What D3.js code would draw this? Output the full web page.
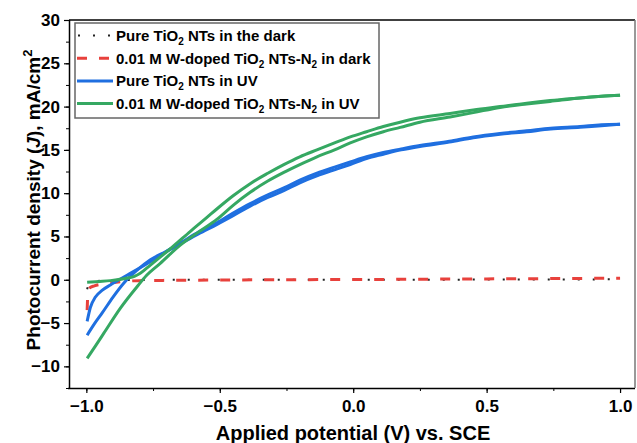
<!DOCTYPE html>
<html>
<head>
<meta charset="utf-8">
<script src="https://cdn.jsdelivr.net/npm/d3@7"></script>
<style>
	body { margin: 0; background: #fff; }
	text { font-family: "Liberation Sans", Arial, sans-serif; font-weight: bold; fill: #000; }
</style>
</head>
<body>
<div id="chart"></div>
<script>
// tick labels
var xTicks = [-1.0, -0.5, 0.0, 0.5, 1.0];
var yTicks = [-10, -5, 0, 5, 10, 15, 20, 25, 30];

// legend entries (odd parts are subscripts)
var seriesNames = [
	['Pure TiO', '2', ' NTs in the dark'],
	['0.01 M W-doped TiO', '2', ' NTs-N', '2', ' in dark'],
	['Pure TiO', '2', ' NTs in UV'],
	['0.01 M W-doped TiO', '2', ' NTs-N', '2', ' in UV']
];

// [potential V, current mA/cm2]
var pureDark = [[-0.997,-1.1],[-0.99,-0.5],[-0.97,-0.2],[-0.9,-0.05],[-0.5,0],[0,0],[0.5,0.02],[1.0,0.05]];
var wDark = [[-0.997,-3.5],[-0.995,-2.0],[-0.99,-1.0],[-0.97,-0.7],[-0.93,-0.45],[-0.88,-0.25],[-0.8,-0.1],
	[-0.6,-0.05],[-0.3,0],[0,0.03],[0.5,0.1],[1.0,0.18]];

var pureUvA = [[-0.997,-4.8],[-0.985,-3.2],[-0.966,-2.0],[-0.94,-1.2],[-0.91,-0.6],[-0.846,0.55],[-0.77,1.9],
	[-0.72,2.9],[-0.65,4.1],[-0.58,5.3],[-0.51,6.4],[-0.45,7.4],[-0.386,8.5],[-0.32,9.5],[-0.26,10.3],
	[-0.2,11.2],[-0.136,12.0],[-0.07,12.7],[-0.011,13.3],[0.05,14.0],[0.113,14.5],[0.18,15.0],[0.25,15.4],
	[0.36,15.9],[0.45,16.4],[0.55,16.8],[0.65,17.1],[0.74,17.4],[0.85,17.6],[0.93,17.8],[1.0,17.95]];
var pureUvB = [[-0.997,-6.4],[-0.97,-5.1],[-0.94,-3.8],[-0.9,-2.0],[-0.86,-0.4],[-0.81,1.1],[-0.76,2.3],
	[-0.7,3.3],[-0.64,4.4],[-0.58,5.5],[-0.51,6.6],[-0.45,7.7],[-0.386,8.8],[-0.32,9.8],[-0.26,10.6],
	[-0.2,11.5],[-0.136,12.3],[-0.07,13.0],[-0.011,13.6],[0.05,14.2],[0.113,14.7],[0.18,15.1],[0.25,15.5],
	[0.36,16.0],[0.45,16.5],[0.55,16.9],[0.65,17.2],[0.74,17.5],[0.85,17.7],[0.93,17.9],[1.0,17.95]];

var wUvA = [[-0.997,-0.3],[-0.95,-0.2],[-0.91,-0.1],[-0.846,0.2],[-0.82,0.4],[-0.798,0.75],[-0.76,1.7],
	[-0.72,2.7],[-0.673,3.9],[-0.61,5.6],[-0.548,7.2],[-0.51,8.2],[-0.45,9.7],[-0.386,11.1],[-0.32,12.3],
	[-0.26,13.3],[-0.2,14.2],[-0.136,15.0],[-0.07,15.8],[-0.011,16.5],[0.05,17.1],[0.113,17.7],[0.176,18.2],
	[0.25,18.7],[0.363,19.2],[0.45,19.6],[0.55,20.0],[0.65,20.4],[0.738,20.7],[0.85,21.0],[0.93,21.2],[1.0,21.3]];
var wUvB = [[-0.997,-9.07],[-0.965,-7.6],[-0.935,-6.2],[-0.873,-3.3],[-0.81,-0.8],[-0.773,0.55],[-0.723,1.9],
	[-0.648,4.0],[-0.58,5.5],[-0.51,7.0],[-0.45,8.6],[-0.386,10.1],[-0.32,11.4],[-0.26,12.4],[-0.2,13.3],
	[-0.136,14.2],[-0.07,15.0],[-0.011,15.8],[0.05,16.5],[0.113,17.1],[0.176,17.6],[0.25,18.2],[0.363,18.8],
	[0.45,19.3],[0.55,19.9],[0.65,20.3],[0.738,20.6],[0.85,21.0],[0.93,21.2],[1.0,21.3]];

window.onload = function(){

	var svg = d3.select('#chart').append('svg').attr('width', 637).attr('height', 443);

	var x = d3.scaleLinear().domain([-1.065, 1.056]).range([69, 635]);
	var y = d3.scaleLinear().domain([-12.5, 30]).range([388, 20]);

	var styles = [
		{color: '#222', width: 2, dash: '2,13'},
		{color: '#e8413c', width: 3, dash: '10,12'},
		{color: '#1f6fe0', width: 3, dash: null},
		{color: '#35a862', width: 3, dash: null}
	];

	svg.append('clipPath').attr('id', 'plotClip').append('rect')
		.attr('x', 69).attr('y', 20).attr('width', 566).attr('height', 368);

	var line = d3.line()
		.x(function(d){ return x(d[0]); })
		.y(function(d){ return y(d[1]); })
		.curve(d3.curveMonotoneX);

	var curves = [
		{data: pureDark, s: 0},
		{data: wDark, s: 1},
		{data: pureUvA, s: 2},
		{data: pureUvB, s: 2},
		{data: wUvA, s: 3},
		{data: wUvB, s: 3}
	];

	var plot = svg.append('g').attr('clip-path', 'url(#plotClip)');
	plot.selectAll('path').data(curves).enter().append('path')
		.attr('d', function(d){ return line(d.data); })
		.attr('fill', 'none')
		.attr('stroke', function(d){ return styles[d.s].color; })
		.attr('stroke-width', function(d){ return styles[d.s].width; })
		.attr('stroke-dasharray', function(d){ return styles[d.s].dash; })
		.attr('stroke-linejoin', 'round');

	// minor ticks
	var xMinor = d3.range(-1.0, 1.01, 0.25);
	var yMinor = d3.range(-12.5, 30.1, 2.5);
	svg.append('g').attr('transform', 'translate(0,388)')
		.call(d3.axisBottom(x).tickValues(xMinor).tickSize(3).tickFormat(''))
		.call(function(g){ g.select('.domain').remove(); });
	svg.append('g').attr('transform', 'translate(69,0)')
		.call(d3.axisLeft(y).tickValues(yMinor).tickSize(3).tickFormat(''))
		.call(function(g){ g.select('.domain').remove(); });

	// major axes
	var xAxis = svg.append('g').attr('transform', 'translate(0,388)')
		.call(d3.axisBottom(x).tickValues(xTicks).tickSize(5).tickPadding(7).tickFormat(d3.format('.1f')).tickSizeOuter(0));
	var yAxis = svg.append('g').attr('transform', 'translate(69,0)')
		.call(d3.axisLeft(y).tickValues(yTicks).tickSize(5).tickPadding(4).tickSizeOuter(0));

	[xAxis, yAxis].forEach(function(g){
		g.selectAll('text').style('font-size', '17px').attr('font-family', null).attr('fill', '#000');
		g.selectAll('.domain').attr('stroke-width', 1.5);
		g.selectAll('line').attr('stroke-width', 1.2);
	});
	svg.selectAll('.tick line').attr('stroke', '#000');
	xAxis.select('.domain').attr('d', 'M68,0.5H635');
	yAxis.select('.domain').attr('d', 'M0.5,20V389');

	// top and right frame
	svg.append('line').attr('x1', 69).attr('x2', 635).attr('y1', 20).attr('y2', 20)
		.attr('stroke', '#000').attr('stroke-width', 1.5);
	svg.append('line').attr('x1', 635).attr('x2', 635).attr('y1', 20).attr('y2', 388)
		.attr('stroke', '#777').attr('stroke-width', 1.5);

	// axis titles
	svg.append('text').attr('x', 353).attr('y', 440).attr('text-anchor', 'middle')
		.style('font-size', '20px').text('Applied potential (V) vs. SCE');

	var yt = svg.append('text').attr('transform', 'translate(40,200) rotate(-90)')
		.attr('text-anchor', 'middle').style('font-size', '19px');
	yt.append('tspan').text('Photocurrent density (');
	yt.append('tspan').style('font-style', 'italic').text('J');
	yt.append('tspan').text('), mA/cm');
	yt.append('tspan').attr('dy', -8).style('font-size', '13px').text('2');

	// legend
	var legend = svg.append('g');
	legend.append('rect').attr('x', 75).attr('y', 23).attr('width', 304).attr('height', 95)
		.attr('fill', '#fff').attr('stroke', '#666').attr('stroke-width', 1.5);

	var rows = legend.selectAll('g.row').data(seriesNames).enter().append('g')
		.attr('class', 'row')
		.attr('transform', function(d, i){ return 'translate(0,' + (35.5 + i * 22.7) + ')'; });

	rows.append('line').attr('x1', 77).attr('x2', 113).attr('y1', 0).attr('y2', 0)
		.attr('stroke', function(d, i){ return styles[i].color; })
		.attr('stroke-width', function(d, i){ return styles[i].width; })
		.attr('stroke-dasharray', function(d, i){ return styles[i].dash; })
		.attr('stroke-dashoffset', function(d, i){ return i == 0 ? -1 : 0; });

	rows.each(function(parts){
		var t = d3.select(this).append('text').attr('x', 116).attr('y', 5.5).style('font-size', '15px');
		parts.forEach(function(p, k){
			var ts = t.append('tspan').text(p);
			if (k % 2 == 1) ts.attr('dy', 4).style('font-size', '10px');
			else if (k > 0) ts.attr('dy', -4);
		});
	});
}
</script>
</body>
</html>
